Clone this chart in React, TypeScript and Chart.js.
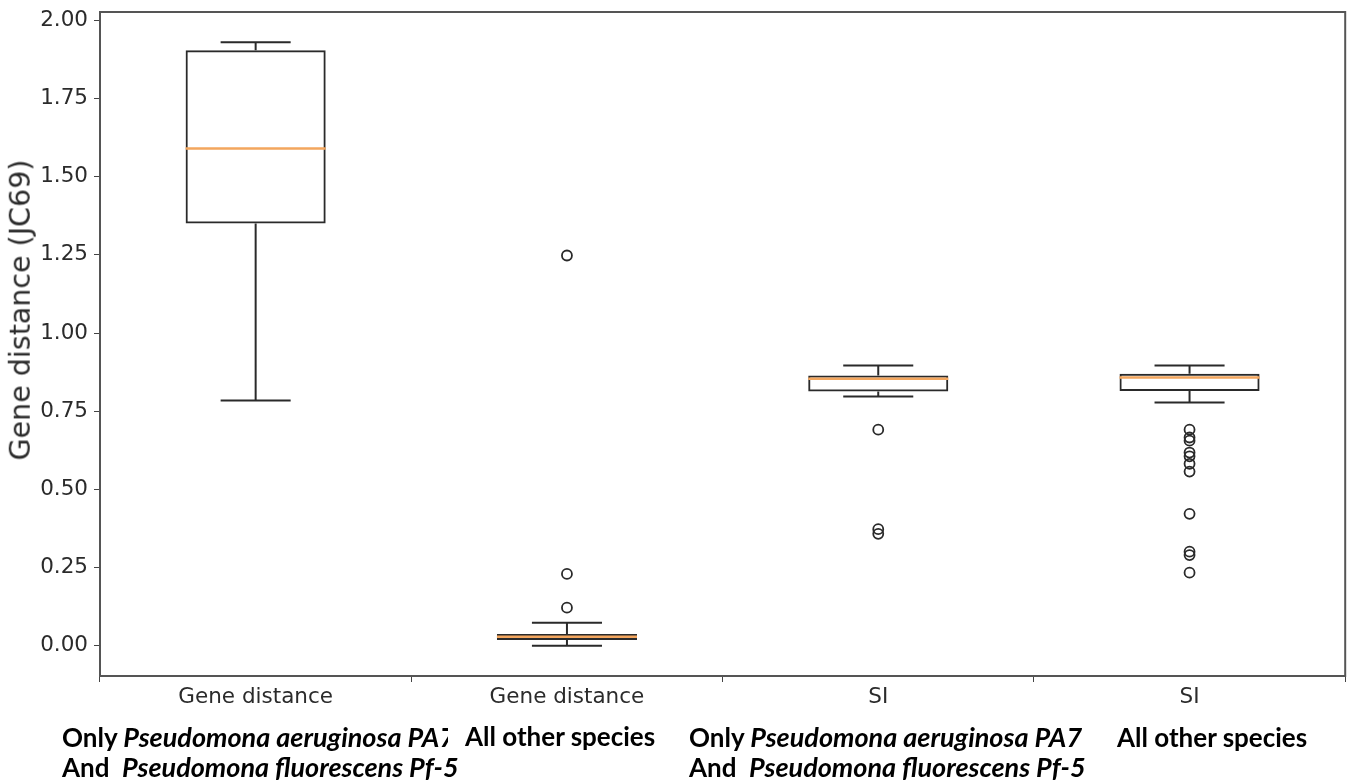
import React, { useEffect, useRef } from "react";
import { Chart, registerables } from "chart.js";

Chart.register(...registerables);

// ---- data ----
const categories = ["Gene distance", "Gene distance", "SI", "SI"];
const positions = [1, 2, 3, 4];
const q1 = [1.35, 0.019, 0.813, 0.815];
const medians = [1.59, 0.029, 0.854, 0.858];
const q3 = [1.904, 0.038, 0.864, 0.87];
const whiskerLow = [0.784, 0.0, 0.797, 0.778];
const whiskerHigh = [1.93, 0.074, 0.896, 0.896];
const outliers1: number[] = [];
const outliers2 = [1.248, 0.23, 0.122];
const outliers3 = [0.691, 0.373, 0.358];
const outliers4 = [0.691, 0.666, 0.656, 0.618, 0.606, 0.582, 0.557, 0.422, 0.301, 0.29, 0.234];
const outliers = [outliers1, outliers2, outliers3, outliers4];
const yTicks = [0, 0.25, 0.5, 0.75, 1.0, 1.25, 1.5, 1.75, 2.0];
const yTitle = "Gene distance (JC69)";
const yMin = -0.0965;
const yMax = 2.0265;
const boxWidth = 0.45;

const DARK = "#2a2a2a";
const ORANGE = "#f3a65e";

const framePlugin = {
  id: "frame",
  afterDraw(chart: any) {
    const { ctx, chartArea } = chart;
    ctx.save();
    ctx.strokeStyle = "#555";
    ctx.lineWidth = 2;
    ctx.strokeRect(chartArea.left, chartArea.top, chartArea.right - chartArea.left, chartArea.bottom - chartArea.top);
    ctx.restore();
  },
};

export default function App() {
  const ref = useRef<HTMLCanvasElement | null>(null);

  useEffect(() => {
    document.body.style.margin = "0";
    const canvas = ref.current;
    if (!canvas) return;

    const boxData = positions.map((x, i) => ({ x, y: [q1[i], q3[i]] }));

    const medianData: any[] = [];
    positions.forEach((x, i) => {
      medianData.push({ x: x - boxWidth / 2, y: medians[i] });
      medianData.push({ x: x + boxWidth / 2, y: medians[i] });
      medianData.push({ x, y: null });
    });

    const whiskerData: any[] = [];
    positions.forEach((x, i) => {
      const cap = boxWidth / 4;
      whiskerData.push({ x, y: q3[i] }, { x, y: whiskerHigh[i] }, { x, y: null });
      whiskerData.push({ x: x - cap, y: whiskerHigh[i] }, { x: x + cap, y: whiskerHigh[i] }, { x, y: null });
      whiskerData.push({ x, y: q1[i] }, { x, y: whiskerLow[i] }, { x, y: null });
      whiskerData.push({ x: x - cap, y: whiskerLow[i] }, { x: x + cap, y: whiskerLow[i] }, { x, y: null });
    });

    const outlierData: any[] = [];
    positions.forEach((x, i) => {
      outliers[i].forEach((v) => outlierData.push({ x, y: v }));
    });

    const chart = new Chart(canvas, {
      type: "scatter",
      data: {
        datasets: [
          {
            type: "scatter",
            data: outlierData,
            pointStyle: "circle",
            pointRadius: 5,
            pointBorderWidth: 1.8,
            pointBackgroundColor: "rgba(0,0,0,0)",
            pointBorderColor: DARK,
            order: 0,
          } as any,
          {
            type: "line",
            data: medianData,
            borderColor: ORANGE,
            borderWidth: 2.5,
            pointRadius: 0,
            spanGaps: false,
            fill: false,
            order: 1,
          } as any,
          {
            type: "line",
            data: whiskerData,
            borderColor: DARK,
            borderWidth: 2,
            pointRadius: 0,
            spanGaps: false,
            fill: false,
            order: 2,
          } as any,
          {
            type: "bar",
            data: boxData,
            backgroundColor: "rgba(255,255,255,0)",
            borderColor: DARK,
            borderWidth: 2,
            borderSkipped: false,
            barPercentage: boxWidth,
            categoryPercentage: 1,
            order: 3,
          } as any,
        ],
      },
      options: {
        responsive: false,
        animation: false,
        events: [],
        layout: { padding: { top: 12, right: 5, left: 0, bottom: 0 } },
        plugins: {
          legend: { display: false },
          tooltip: { enabled: false },
        },
        scales: {
          x: {
            type: "linear",
            min: 0.5,
            max: 4.5,
            offset: false,
            afterBuildTicks: (scale: any) => {
              scale.ticks = positions.map((v) => ({ value: v }));
            },
            afterFit: (scale: any) => {
              scale.height = 106;
              scale.paddingLeft = 0;
              scale.paddingRight = 0;
            },
            ticks: {
              autoSkip: false,
              maxRotation: 0,
              padding: 3,
              color: "#2b2b2b",
              font: { family: "DejaVu Sans", size: 21.5 },
              callback: (v: any) => categories[positions.indexOf(Number(v))] ?? "",
            },
            grid: {
              drawOnChartArea: false,
              drawTicks: true,
              tickLength: 6,
              tickColor: "#444",
              tickWidth: 1,
            },
            border: { display: false },
          },
          y: {
            type: "linear",
            min: yMin,
            max: yMax,
            afterBuildTicks: (scale: any) => {
              scale.ticks = yTicks.map((v) => ({ value: v }));
            },
            afterFit: (scale: any) => {
              scale.width = 100;
              scale.paddingTop = 0;
              scale.paddingBottom = 0;
            },
            ticks: {
              padding: 6,
              color: "#2b2b2b",
              font: { family: "DejaVu Sans", size: 21.5 },
              callback: (v: any) => Number(v).toFixed(2),
            },
            grid: {
              drawOnChartArea: false,
              drawTicks: true,
              tickLength: 6,
              tickColor: "#444",
              tickWidth: 1,
            },
            border: { display: false },
            title: { display: false },
          },
        },
      },
      plugins: [framePlugin],
    });

    return () => chart.destroy();
  }, []);

  const noteStyle: React.CSSProperties = {
    position: "absolute",
    fontFamily: "Lato, 'Open Sans', sans-serif",
    fontWeight: 700,
    fontSize: 26,
    lineHeight: "29px",
    color: "#000",
    whiteSpace: "nowrap",
  };
  const it: React.CSSProperties = { fontStyle: "italic", fontSize: 27 };

  return (
    <div style={{ position: "relative", width: 1352, height: 782, background: "#fff", overflow: "hidden" }}>
      <canvas ref={ref} width={1352} height={782} style={{ display: "block", width: 1352, height: 782 }} />
      <div
        style={{
          position: "absolute",
          left: 21,
          top: 310,
          transform: "translate(-50%, -50%) rotate(-90deg)",
          fontFamily: "'DejaVu Sans', sans-serif",
          fontSize: 28.5,
          color: "#2b2b2b",
          whiteSpace: "nowrap",
          lineHeight: 1,
        }}
      >
        {yTitle}
      </div>
      <div style={{ ...noteStyle, left: 62, top: 722 }}>
        <div>
          Only <span style={it}>Pseudomona aeruginosa PA7</span>
        </div>
        <div>
          And&nbsp; <span style={it}>Pseudomona fluorescens Pf-5</span>
        </div>
      </div>
      <div style={{ ...noteStyle, left: 448, top: 722, paddingLeft: 17, paddingRight: 4, background: "#fff" }}>
        All other species
      </div>
      <div style={{ ...noteStyle, left: 689, top: 722 }}>
        <div>
          Only <span style={it}>Pseudomona aeruginosa PA7</span>
        </div>
        <div>
          And&nbsp; <span style={it}>Pseudomona fluorescens Pf-5</span>
        </div>
      </div>
      <div style={{ ...noteStyle, left: 1117, top: 723 }}>All other species</div>
    </div>
  );
}
